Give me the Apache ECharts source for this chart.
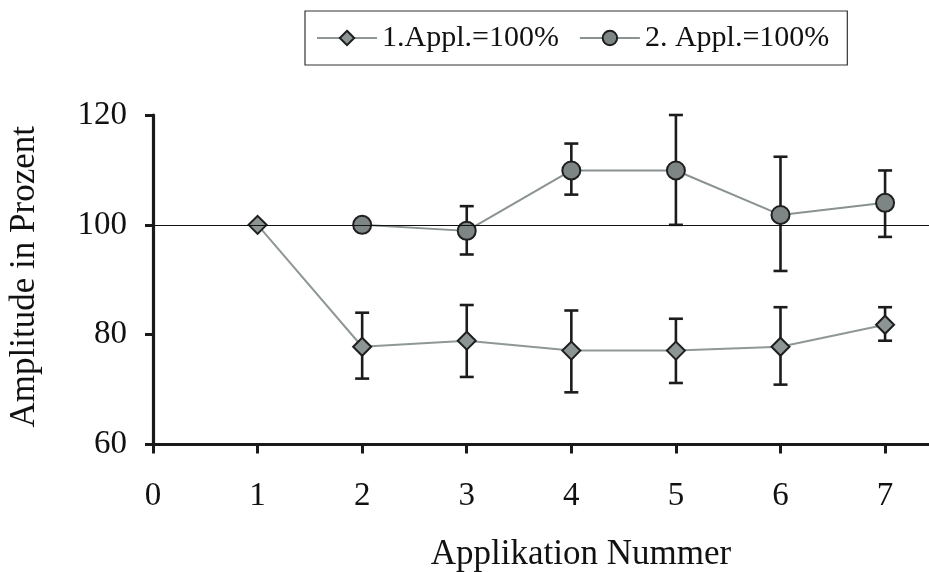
<!DOCTYPE html>
<html>
<head>
<meta charset="utf-8">
<script src="https://cdn.jsdelivr.net/npm/echarts@6/dist/echarts.min.js"></script>
<style>html,body{margin:0;padding:0;background:#fff;}#c{width:929px;height:572px;}</style>
</head>
<body>
<div id="c"></div>
<script>
// Data
var seriesNames = ['1.Appl.=100%', '2. Appl.=100%'];
var xTicks = [0, 1, 2, 3, 4, 5, 6, 7];
var yTicks = [60, 80, 100, 120];
// Series 1 (diamonds)
var s1X = [1, 2, 3, 4, 5, 6, 7];
var s1Mean = [100, 77.8, 78.9, 77.1, 77.1, 77.8, 81.8];
var s1Low  = [null, 72.0, 72.3, 69.5, 71.2, 70.9, 78.9];
var s1High = [null, 84.0, 85.4, 84.4, 82.9, 85.0, 85.0];
// Series 2 (circles)
var s2X = [2, 3, 4, 5, 6, 7];
var s2Mean = [100, 98.9, 109.9, 109.9, 101.8, 104.0];
var s2Low  = [null, 94.6, 105.5, 100.0, 91.6, 97.8];
var s2High = [null, 103.4, 114.8, 120.0, 112.4, 109.9];
var refLine = 100;

function pts(xs, ys) { return xs.map(function (x, i) { return [x, ys[i]]; }); }
function errs(xs, lo, hi) {
  var out = [];
  xs.forEach(function (x, i) { if (lo[i] != null) out.push([x, lo[i], hi[i]]); });
  return out;
}

var FONT = 'Liberation Serif';
var chart = echarts.init(document.getElementById('c'));

function errItem(params, api) {
  var x = api.value(0);
  var lo = api.coord([x, api.value(1)]);
  var hi = api.coord([x, api.value(2)]);
  var w = 7;
  var st = { stroke: '#1c1c1c', lineWidth: 2.6 };
  return {
    type: 'group',
    children: [
      { type: 'line', shape: { x1: hi[0], y1: hi[1], x2: lo[0], y2: lo[1] }, style: st },
      { type: 'line', shape: { x1: hi[0] - w, y1: hi[1], x2: hi[0] + w, y2: hi[1] }, style: st },
      { type: 'line', shape: { x1: lo[0] - w, y1: lo[1], x2: lo[0] + w, y2: lo[1] }, style: st }
    ]
  };
}

chart.setOption({
  animation: false,
  backgroundColor: '#ffffff',
  textStyle: { fontFamily: FONT },
  legend: {
    data: seriesNames,
    left: 305,
    top: 11,
    padding: [12, 18, 12, 11],
    itemGap: 20,
    itemWidth: 60,
    itemHeight: 18,
    borderColor: '#333',
    borderWidth: 1.2,
    backgroundColor: '#fff',
    textStyle: { fontFamily: FONT, fontSize: 30, color: '#111' }
  },
  grid: { left: 153, top: 115, right: 0, bottom: 127.5, containLabel: false, outerBoundsMode: 'none' },
  xAxis: {
    type: 'value',
    min: 0, max: 7.42, interval: 1,
    name: 'Applikation Nummer',
    nameLocation: 'middle',
    nameGap: 93,
    nameTextStyle: { fontFamily: FONT, fontSize: 35, color: '#111', padding: [0, 0, 0, 80] },
    axisLine: { onZero: false, lineStyle: { color: '#1a1a1a', width: 3.2 } },
    axisTick: { show: true, inside: false, length: 9, customValues: xTicks, lineStyle: { color: '#1a1a1a', width: 3 } },
    axisLabel: { margin: 35, customValues: xTicks, fontFamily: FONT, fontSize: 33, color: '#111',
      formatter: function (v) { return Number.isInteger(v) ? String(v) : ''; } },
    splitLine: { show: false }
  },
  yAxis: {
    type: 'value',
    min: 60, max: 120, interval: 20,
    name: 'Amplitude in Prozent',
    nameLocation: 'middle',
    nameGap: 111,
    nameRotate: 90,
    nameTextStyle: { fontFamily: FONT, fontSize: 35, color: '#111', padding: [0, 0, 0, 6] },
    axisLine: { show: true, onZero: false, lineStyle: { color: '#1a1a1a', width: 3.2 } },
    axisTick: { show: true, inside: false, length: 8, lineStyle: { color: '#1a1a1a', width: 3 } },
    axisLabel: { margin: 26, fontFamily: FONT, fontSize: 33, color: '#111' },
    splitLine: { show: false }
  },
  series: [
    {
      name: 'ref', type: 'line', data: [], silent: true, z: 1,
      markLine: {
        silent: true, symbol: 'none', label: { show: false },
        lineStyle: { color: '#111', width: 1.2, type: 'solid' },
        data: [{ yAxis: refLine }]
      }
    },
    { name: 'err1', type: 'custom', renderItem: errItem, data: errs(s1X, s1Low, s1High), z: 3, encode: { x: 0, y: [1, 2] } },
    { name: 'err2', type: 'custom', renderItem: errItem, data: errs(s2X, s2Low, s2High), z: 3, encode: { x: 0, y: [1, 2] } },
    {
      name: seriesNames[0], type: 'line', data: pts(s1X, s1Mean), z: 4,
      symbol: 'diamond', symbolSize: 18,
      lineStyle: { color: '#8f9797', width: 2 },
      itemStyle: { color: '#8c9494', borderColor: '#1e1e1e', borderWidth: 2 }
    },
    {
      name: seriesNames[1], type: 'line', data: pts(s2X, s2Mean), z: 4,
      symbol: 'circle', symbolSize: 18,
      lineStyle: { color: '#8a9292', width: 2 },
      itemStyle: { color: '#7d8585', borderColor: '#1e1e1e', borderWidth: 2 }
    }
  ]
});
</script>
</body>
</html>
